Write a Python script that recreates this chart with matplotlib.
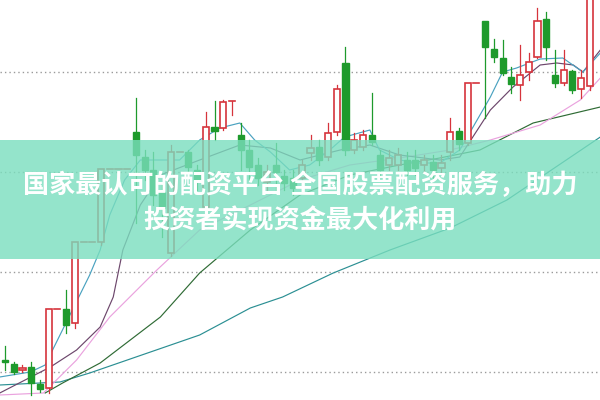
"""candlestick chart with moving averages and a text banner"""
import numpy as np
import matplotlib
matplotlib.use('Agg')
from matplotlib import pyplot as plt
from matplotlib.patches import Rectangle

plt.rcParams['font.family'] = ['Noto Sans CJK SC', 'DejaVu Sans']

# daily prices (open, close, high, low)
opens = [10.12, 10.08, 10.02, 10.05, 9.88, 9.84, 10.63, 10.63, 10.49, 11.30,
         11.30, 11.30, 12.03, 12.03, 12.03, 12.40, 12.15, 12.02, 11.80, 11.19,
         12.20, 12.20, 12.02, 11.65, 12.45, 12.44, 12.71, 12.37, 12.22, 12.07,
         11.90, 12.07, 11.96, 11.94, 11.94, 12.19, 12.25, 12.15, 12.40, 13.09,
         12.22, 12.25, 12.37, 12.17, 12.07, 12.07, 12.12, 12.12, 12.07, 12.10,
         12.04, 12.20, 12.41, 12.29, 12.89, 13.51, 13.23, 13.14, 12.95, 12.87,
         13.00, 13.15, 13.53, 12.97, 12.89, 13.01, 12.83, 12.86]
closes = [10.10, 10.00, 10.04, 9.89, 9.83, 10.63, 10.63, 10.47, 11.30, 11.30,
          11.30, 12.03, 12.03, 12.03, 12.03, 12.17, 12.02, 11.77, 11.64, 12.20,
          12.20, 12.05, 11.92, 12.45, 12.41, 12.70, 12.71, 12.22, 12.05, 11.94,
          12.00, 12.00, 11.89, 11.84, 12.07, 12.24, 12.12, 12.39, 12.83, 12.22,
          12.32, 12.37, 12.30, 12.02, 12.14, 12.17, 12.02, 12.04, 12.12, 12.02,
          12.09, 12.40, 12.28, 12.89, 12.89, 13.25, 13.15, 12.99, 12.88, 12.97,
          13.10, 13.51, 13.25, 12.89, 13.02, 12.82, 12.94, 13.77]
highs = [10.26, 10.10, 10.07, 10.10, 9.92, 10.63, 10.63, 10.82, 11.30, 11.30,
         11.30, 12.03, 12.03, 12.03, 12.03, 12.74, 12.22, 12.20, 11.87, 12.27,
         12.20, 12.22, 12.07, 12.60, 12.71, 12.72, 12.71, 12.49, 12.32, 12.14,
         12.07, 12.29, 12.02, 12.02, 12.12, 12.37, 12.32, 12.49, 12.87, 13.25,
         12.39, 12.42, 12.79, 12.22, 12.22, 12.24, 12.20, 12.22, 12.17, 12.17,
         12.17, 12.54, 12.44, 12.89, 12.89, 13.51, 13.33, 13.32, 13.05, 13.27,
         13.19, 13.64, 13.60, 13.22, 13.22, 13.02, 13.02, 13.82]
lows = [10.02, 9.98, 10.00, 9.77, 9.80, 9.79, 10.63, 10.39, 10.44, 11.30,
        11.30, 11.27, 12.03, 12.03, 12.03, 11.49, 11.92, 11.67, 11.35, 11.16,
        12.20, 12.00, 11.82, 11.62, 12.32, 12.42, 12.57, 12.02, 11.92, 11.87,
        11.82, 11.82, 11.82, 11.77, 11.87, 12.12, 12.07, 12.12, 12.37, 12.17,
        12.19, 12.22, 12.27, 11.97, 12.02, 12.02, 11.97, 11.97, 11.99, 11.94,
        11.99, 12.12, 12.22, 12.27, 12.89, 12.54, 13.10, 12.97, 12.79, 12.72,
        12.92, 13.14, 13.12, 12.85, 12.87, 12.79, 12.74, 12.82]

# moving average lines, read at points (x in candle index, y in price)
ma5_x = [-0.6, 2.9, 4.6, 6.3, 8.0, 9.7, 10.9, 12.0, 13.7, 15.5, 17.8, 20.0,
         22.3, 24.6, 26.9, 28.6, 30.4, 32.6, 34.9, 37.2, 38.9, 41.8, 42.9,
         45.2, 47.5, 49.8, 52.1, 55.6, 57.0, 58.6, 61.3, 63.9, 66.2, 68.2]
ma5_y = [9.95, 10.00, 10.07, 10.37, 10.67, 10.97, 11.22, 11.57, 11.92, 12.12,
         12.12, 12.12, 12.32, 12.44, 12.49, 12.32, 12.20, 12.02, 12.07, 12.22,
         12.35, 12.42, 12.22, 12.12, 12.09, 12.09, 12.22, 12.75, 13.00, 13.04,
         13.13, 13.14, 13.00, 13.19]
ma10_x = [-0.6, 5.2, 8.2, 10.9, 12.4, 13.5, 15.5, 17.8, 22.3, 26.9, 30.4, 33.8,
          38.4, 41.8, 45.2, 49.8, 52.1, 55.6, 58.2, 61.3, 63.2, 65.1, 66.2, 68.2]
ma10_y = [9.79, 10.05, 10.22, 10.45, 10.75, 11.22, 11.67, 11.97, 12.12, 12.27,
          12.24, 12.12, 12.22, 12.27, 12.17, 12.12, 12.15, 12.62, 12.85, 13.07,
          13.09, 13.07, 13.00, 13.22]
ma20_x = [-0.6, 4.4, 8.2, 12.0, 17.4, 22.3, 28.1, 33.8, 39.5, 45.2, 51.0, 55.6,
          61.3, 65.9, 68.2]
ma20_y = [9.77, 9.79, 10.12, 10.55, 11.02, 11.42, 11.67, 11.92, 12.07, 12.14,
          12.22, 12.32, 12.47, 12.72, 12.94]
ma30_x = [4.6, 6.6, 10.9, 17.8, 22.3, 28.1, 33.8, 39.5, 45.2, 49.8, 54.4, 60.5,
          68.2]
ma30_y = [9.79, 9.89, 10.09, 10.55, 10.99, 11.42, 11.77, 11.97, 12.07, 12.14,
          12.22, 12.49, 12.65]
ma60_x = [-0.6, 6.3, 9.7, 22.3, 28.1, 31.8, 37.6, 44.1, 51.0, 57.5, 68.2]
ma60_y = [9.87, 9.90, 9.99, 10.37, 10.64, 10.75, 10.99, 11.22, 11.44, 11.72,
          12.35]

grid_levels = [10, 11, 12, 13]
banner_lines = ['国家最认可的配资平台 全国股票配资服务，助力', '投资者实现资金最大化利用']

red, green = '#d6343c', '#1e9a2c'
body_w = 0.7

fig = plt.figure(figsize=(6, 4), dpi=100)
ax = fig.add_axes([0, 0, 1, 1])
ax.set_xlim(-0.573, 68.16)
ax.set_ylim(9.72, 13.72)
ax.axis('off')

for level in grid_levels:
    ax.axhline(level, color='#9a9a9a', lw=1.0, ls=(0, (1, 2.2)), zorder=1)

for ma_x, ma_y, color in [(ma60_x, ma60_y, '#2b8f93'), (ma30_x, ma30_y, '#2f6b35'),
                          (ma20_x, ma20_y, '#eaa2de'), (ma10_x, ma10_y, '#6d476c'),
                          (ma5_x, ma5_y, '#4aa2c0')]:
    ax.plot(ma_x, ma_y, color=color, lw=0.85, zorder=2)

for i, (o, c, h, l) in enumerate(zip(opens, closes, highs, lows)):
    up = c >= o
    color = red if up else green
    top, bottom = max(o, c), min(o, c)
    ax.plot([i, i], [top, h], color=color, lw=0.9, zorder=3)
    ax.plot([i, i], [l, bottom], color=color, lw=0.9, zorder=3)
    if top - bottom < 0.01:
        ax.plot([i - body_w / 2, i + body_w / 2], [o, o], color=color, lw=1.2, zorder=4)
    elif up:
        ax.add_patch(Rectangle((i - body_w / 2, bottom), body_w, top - bottom,
                               facecolor='white', edgecolor=color, lw=1.2, zorder=4))
    else:
        ax.add_patch(Rectangle((i - body_w / 2, bottom), body_w, top - bottom,
                               facecolor=color, edgecolor=color, lw=1.0, zorder=4))

# banner over the chart
fig.patches.append(Rectangle((0, 0.3525), 1, 0.2975, transform=fig.transFigure,
                             facecolor='#7adebe', alpha=0.8, edgecolor='none', zorder=10))
fig.text(0.5, 0.535, banner_lines[0], ha='center', va='center', color='white',
         fontsize=18.8, fontweight='bold', zorder=11)
fig.text(0.5, 0.448, banner_lines[1], ha='center', va='center', color='white',
         fontsize=18.8, fontweight='bold', zorder=11)

plt.savefig('out.png', dpi=100)
